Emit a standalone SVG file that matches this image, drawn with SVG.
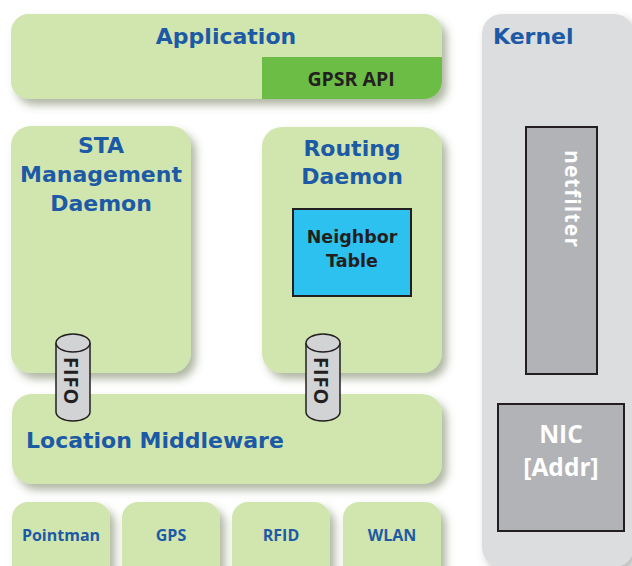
<svg xmlns="http://www.w3.org/2000/svg" width="632" height="566" viewBox="0 0 632 566">
  <defs>
    <filter id="shadow" x="-10%" y="-10%" width="130%" height="130%">
      <feDropShadow dx="5" dy="6" stdDeviation="4" flood-color="#4f5f35" flood-opacity="0.45"/>
    </filter>
    <filter id="shadowGrey" x="-10%" y="-10%" width="130%" height="130%">
      <feDropShadow dx="4" dy="5" stdDeviation="4" flood-color="#555" flood-opacity="0.4"/>
    </filter>
  </defs>
  <style>
    .box { fill: #d1e5ae; filter: url(#shadow); }
    .kern { fill: #dcdddf; filter: url(#shadowGrey); }
    .grey { fill: #b1b3b6; stroke: #231f20; stroke-width: 2; }
    .title { font-family: "Open Sans", "Liberation Sans", sans-serif; font-weight: 700; fill: #1d5aa6; }
    .big { font-family: "DejaVu Sans", "Open Sans", sans-serif; font-size: 22px; }
    .small { font-size: 16px; }
    .dark { font-family: "Open Sans", "Liberation Sans", sans-serif; font-weight: 700; fill: #231f20; }
    .compact { font-family: "DejaVu Sans", "Open Sans", sans-serif; font-size: 17.5px; }
    .white { font-family: "Open Sans", "Liberation Sans", sans-serif; font-weight: 700; fill: #ffffff; }
    .mid { text-anchor: middle; }
    .cyl { fill: #d1d3d4; stroke: #231f20; stroke-width: 1.5; }
  </style>

  <rect width="632" height="566" fill="#ffffff"/>

  <!-- Kernel space -->
  <g id="kernel">
    <rect class="kern" x="482" y="14" width="152" height="553" rx="20"/>
    <text class="title big" x="493" y="44">Kernel</text>
  </g>
  <g id="netfilter">
    <rect class="grey" x="526" y="127" width="71" height="247"/>
    <text class="white" font-size="21" letter-spacing="1.2" transform="translate(565,150) rotate(90)">netfilter</text>
  </g>
  <g id="nic">
    <rect class="grey" x="498" y="404" width="126" height="127"/>
    <text class="white mid" font-size="24.5" x="561" y="443">NIC</text>
    <text class="white mid" font-size="24.5" x="561" y="476">[Addr]</text>
  </g>

  <!-- User space -->
  <g id="application">
    <rect class="box" x="11" y="14" width="431" height="85" rx="18"/>
    <text class="title big mid" x="226" y="44">Application</text>
  </g>
  <g id="gpsr-api">
    <path d="M262,57 H442 V81 A18,18 0 0 1 424,99 H262 Z" fill="#6cbd45"/>
    <text class="dark mid" font-size="19.5" x="351" y="86">GPSR API</text>
  </g>

  <g id="sta-daemon">
    <rect class="box" x="11" y="126" width="180" height="247" rx="20"/>
    <text class="title big mid" x="101" y="153">STA</text>
    <text class="title big mid" x="101" y="182">Management</text>
    <text class="title big mid" x="101" y="211">Daemon</text>
  </g>

  <g id="routing-daemon">
    <rect class="box" x="262" y="127" width="180" height="246" rx="20"/>
    <text class="title big mid" x="352" y="156">Routing</text>
    <text class="title big mid" x="352" y="184">Daemon</text>
  </g>
  <g id="neighbor-table">
    <rect x="293" y="209" width="118" height="87" fill="#2dc1ef" stroke="#231f20" stroke-width="2"/>
    <text class="dark compact mid" x="352" y="243">Neighbor</text>
    <text class="dark compact mid" x="352" y="267">Table</text>
  </g>

  <g id="location-middleware">
    <rect class="box" x="12" y="394" width="430" height="90" rx="20"/>
    <text class="title big" x="26" y="448">Location Middleware</text>
  </g>

  <g id="pointman">
    <rect class="box" x="12" y="502" width="98" height="80" rx="16"/>
    <text class="title small mid" x="61" y="541">Pointman</text>
  </g>
  <g id="gps">
    <rect class="box" x="122" y="502" width="98" height="80" rx="16"/>
    <text class="title small mid" x="171" y="541">GPS</text>
  </g>
  <g id="rfid">
    <rect class="box" x="232" y="502" width="98" height="80" rx="16"/>
    <text class="title small mid" x="281" y="541">RFID</text>
  </g>
  <g id="wlan">
    <rect class="box" x="343" y="502" width="98" height="80" rx="16"/>
    <text class="title small mid" x="392" y="541">WLAN</text>
  </g>

  <!-- FIFO pipes linking the daemons to the middleware -->
  <g id="connectors">
    <g id="fifo-sta">
      <path class="cyl" d="M56,343 V412 A17,9 0 0 0 90,412 V343"/>
      <ellipse class="cyl" cx="73" cy="343" rx="17" ry="9"/>
      <text class="dark" font-size="20" letter-spacing="1" transform="translate(63.5,357) rotate(90)">FIFO</text>
    </g>
    <g id="fifo-routing">
      <path class="cyl" d="M306,343 V412 A17,9 0 0 0 340,412 V343"/>
      <ellipse class="cyl" cx="323" cy="343" rx="17" ry="9"/>
      <text class="dark" font-size="20" letter-spacing="1" transform="translate(313.5,357) rotate(90)">FIFO</text>
    </g>
  </g>
</svg>
